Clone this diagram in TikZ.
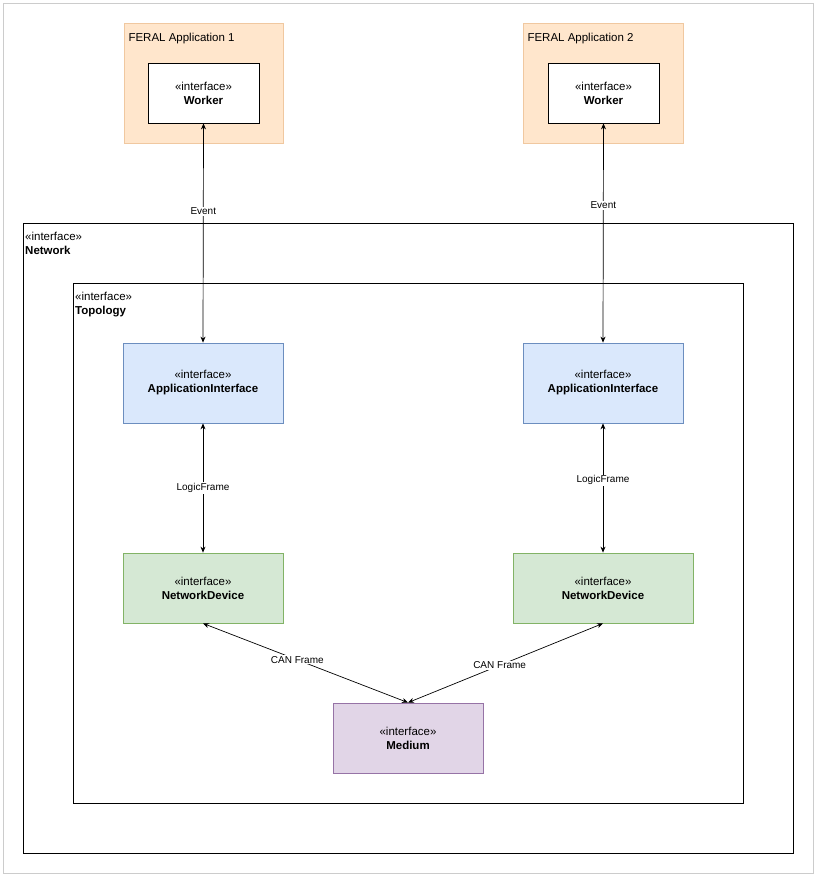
\documentclass[tikz,border=0pt]{standalone}
\usepackage{fontspec}
\setmainfont{Liberation Sans}
\usetikzlibrary{arrows.meta}
\definecolor{orf}{HTML}{FFE6CC}\definecolor{ors}{HTML}{F0C8A0}
\definecolor{blf}{HTML}{DAE8FC}\definecolor{bls}{HTML}{6C8EBF}
\definecolor{grf}{HTML}{D5E8D4}\definecolor{grs}{HTML}{82B366}
\definecolor{puf}{HTML}{E1D5E7}\definecolor{pus}{HTML}{9673A6}
\tikzset{x=1pt,y=-1pt,
 box/.style={draw,line width=0.8pt,inner sep=0},
 lbl/.style={font=\fontsize{10}{12}\selectfont,fill=white,inner sep=1pt},
 con/.style={{Stealth[length=6pt,width=5pt]}-{Stealth[length=6pt,width=5pt]},line width=0.7pt},
 t/.style={font=\fontsize{11.5}{14}\selectfont,align=center}}
\newcommand{\ifc}[1]{\guillemotleft interface\guillemotright\\\textbf{#1}}
\begin{document}
\begin{tikzpicture}
\useasboundingbox (0,0) rectangle (816,884);
\draw[gray!40,line width=1pt] (3,3) rectangle (813,873);
% apps
\draw[box,fill=orf,draw=ors] (124,23) rectangle (283,143);
\node[anchor=west,font=\fontsize{11.5}{14}\selectfont] (a1l) at (125,39) {FERAL Application 1};
\draw[box,fill=orf,draw=ors] (523,23) rectangle (683,143);
\node[anchor=west,font=\fontsize{11.5}{14}\selectfont] (a2l) at (524,39) {FERAL Application 2};
\node[box,fill=white,minimum width=111pt,minimum height=60pt,t] (w1) at (203.5,93) {\ifc{Worker}};
\node[box,fill=white,minimum width=111pt,minimum height=60pt,t] (w2) at (603.5,93) {\ifc{Worker}};
% frames
\draw[line width=0.8pt] (23,223) rectangle (793,853);
\node[anchor=north west,t,align=left,inner sep=0] (nl) at (25,232) {\ifc{Network}};
\draw[line width=0.8pt] (73,283) rectangle (743,803);
\node[anchor=north west,t,align=left,inner sep=0] (tl) at (75,292) {\ifc{Topology}};
% nodes
\node[box,fill=blf,draw=bls,minimum width=160pt,minimum height=80pt,t] (ai1) at (203,383) {\ifc{ApplicationInterface}};
\node[box,fill=blf,draw=bls,minimum width=160pt,minimum height=80pt,t] (ai2) at (603,383) {\ifc{ApplicationInterface}};
\node[box,fill=grf,draw=grs,minimum width=160pt,minimum height=70pt,t] (nd1) at (203,588) {\ifc{NetworkDevice}};
\node[box,fill=grf,draw=grs,minimum width=180pt,minimum height=70pt,t] (nd2) at (603,588) {\ifc{NetworkDevice}};
\node[box,fill=puf,draw=pus,minimum width=150pt,minimum height=70pt,t] (md) at (408,738) {\ifc{Medium}};
% connectors
\draw[con] (w1.south) -- node[lbl,pos=0.4] {Event} (ai1.north);
\draw[con] (w2.south) -- node[lbl,pos=0.375] {Event} (ai2.north);
\draw[con] (ai1.south) -- node[lbl,pos=0.5] {LogicFrame} (nd1.north);
\draw[con] (ai2.south) -- node[lbl,pos=0.44] {LogicFrame} (nd2.north);
\draw[con] (nd1.south) -- node[lbl,pos=0.46] {CAN Frame} (md.north);
\draw[con] (nd2.south) -- node[lbl,pos=0.53] {CAN Frame} (md.north);
\end{tikzpicture}
\end{document}
